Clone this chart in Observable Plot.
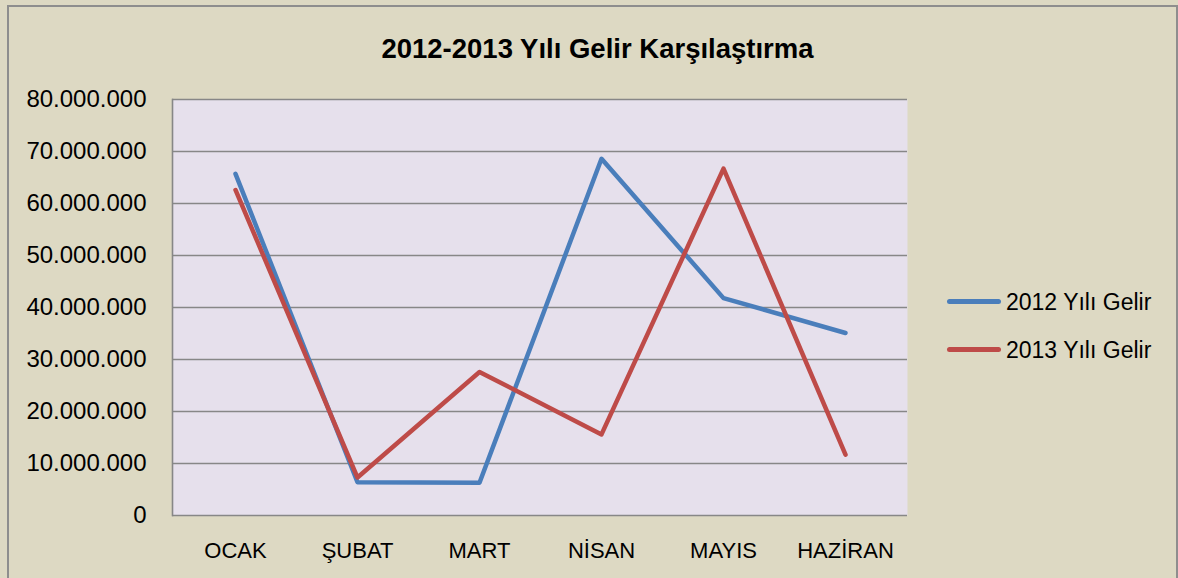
<!DOCTYPE html>
<html>
<head>
<meta charset="utf-8">
<script src="https://cdn.jsdelivr.net/npm/d3@7"></script>
<script src="https://cdn.jsdelivr.net/npm/@observablehq/plot@0.6"></script>
<style>
  html, body { margin: 0; padding: 0; background: #ddd9c3; }
  #wrap { position: relative; width: 1178px; height: 578px; overflow: hidden; background: #ddd9c3; font-family: "Liberation Sans", Arial, sans-serif; }
  #border { position: absolute; left: 7px; top: 5px; width: 1171px; height: 620px; box-sizing: border-box; border: 2px solid #8e8e8e; }
  #title { position: absolute; left: 0; top: 35px; width: 1195px; text-align: center; font-size: 27.5px; font-weight: bold; line-height: 1; color: #000; white-space: nowrap; }
  #chart { position: absolute; left: 0; top: 0; }
  .leg { position: absolute; left: 947px; width: 1px; height: 1px; }
  .leg .sw { position: absolute; left: 0; top: -2.5px; width: 54px; height: 5px; border-radius: 3px; }
  .leg .lb { position: absolute; left: 59px; top: -10.5px; font-size: 23px; line-height: 1; white-space: nowrap; color: #000; }
</style>
</head>
<body>
<div id="wrap">
  <div id="border"></div>
  <div id="chart"></div>
  <div id="title"></div>
  <div id="legend"></div>
</div>
<script>
const titleText = "2012-2013 Yılı Gelir Karşılaştırma";
const months = ["OCAK", "ŞUBAT", "MART", "NİSAN", "MAYIS", "HAZİRAN"];
const seriesNames = ["2012 Yılı Gelir", "2013 Yılı Gelir"];
const seriesColors = ["#4a7ebb", "#be4b48"];
const gelir2012 = [65700000, 6400000, 6300000, 68600000, 41800000, 35100000];
const gelir2013 = [62600000, 7300000, 27600000, 15600000, 66700000, 11700000];
const yTicks = [0, 10000000, 20000000, 30000000, 40000000, 50000000, 60000000, 70000000, 80000000];

const trLocale = d3.formatLocale({decimal: ",", thousands: ".", grouping: [3], currency: ["₺", ""]});
const fmt = trLocale.format(",.0f");

const rows = [];
[gelir2012, gelir2013].forEach((vals, s) => {
  vals.forEach((v, i) => rows.push({month: months[i], value: v, series: seriesNames[s]}));
});

document.getElementById("title").textContent = titleText;

const chart = Plot.plot({
  width: 1178,
  height: 578,
  marginLeft: 172,
  marginRight: 271,
  marginTop: 99,
  marginBottom: 63,
  style: {background: "transparent", fontFamily: "'Liberation Sans', Arial, sans-serif", color: "#000", overflow: "visible"},
  x: {type: "point", domain: months, padding: 0.5, label: null},
  y: {domain: [0, 80000000], label: null},
  color: {domain: seriesNames, range: seriesColors},
  marks: [
    Plot.frame({fill: "#e6e0ec", stroke: null}),
    Plot.ruleY(yTicks, {stroke: "#878787", strokeWidth: 1.6, strokeOpacity: 1}),
    Plot.frame({anchor: "left", stroke: "#878787", strokeWidth: 1.6, strokeOpacity: 1}),
    Plot.axisY({ticks: yTicks, tickSize: 0, tickPadding: 26, tickFormat: fmt, fontSize: 24, label: null}),
    Plot.axisX({tickSize: 0, tickPadding: 27, fontSize: 22, label: null}),
    Plot.lineY(rows, {x: "month", y: "value", z: "series", stroke: "series", strokeWidth: 4.5, strokeLinecap: "round", strokeLinejoin: "round"})
  ]
});
document.getElementById("chart").appendChild(chart);

const legend = document.getElementById("legend");
const legTops = [301, 349];
seriesNames.forEach((name, i) => {
  const d = document.createElement("div");
  d.className = "leg";
  d.style.top = legTops[i] + "px";
  const sw = document.createElement("div");
  sw.className = "sw";
  sw.style.background = seriesColors[i];
  const lb = document.createElement("div");
  lb.className = "lb";
  lb.textContent = name;
  d.appendChild(sw);
  d.appendChild(lb);
  legend.appendChild(d);
});
</script>
</body>
</html>
